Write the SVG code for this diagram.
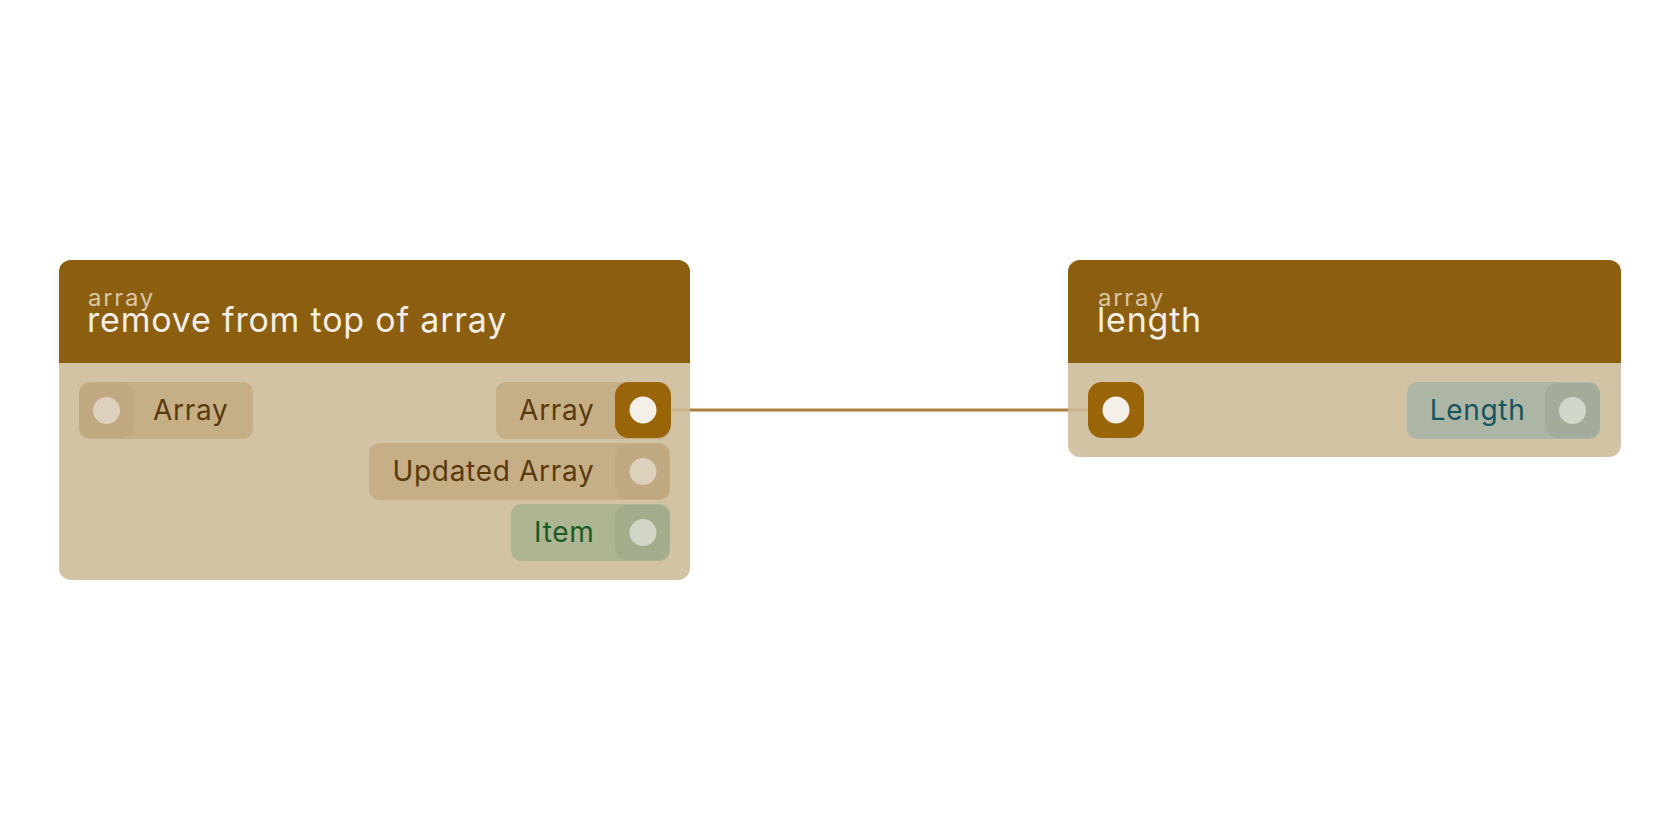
<svg xmlns="http://www.w3.org/2000/svg" width="1680" height="840" viewBox="0 0 1680 840">
<defs>
<style>
.body{fill:#CDBB99;fill-opacity:0.88}
.head{fill:#8C5E10}
.cat{font-family:Inter,"Noto Sans",sans-serif;font-size:24px;letter-spacing:1.7px;fill:#D8C6A6}
.title{font-family:Inter,"Noto Sans",sans-serif;font-size:34px;letter-spacing:0.8px;fill:#F3EEE6}
.lbl{font-family:Inter,"Noto Sans",sans-serif;font-size:28px;letter-spacing:0.7px}
.pb{fill:#C6AF86}
.hb{fill:#C0A882}
.db{fill:#DDD1BD}
.tb{fill:#5A3A0C}
.pg{fill:#ADB593}
.hg{fill:#A3AC8B}
.dg{fill:#D1D6C7}
.tg{fill:#1A5A26}
.pt{fill:#ADB6A4}
.ht{fill:#A3AB9B}
.dt{fill:#D2D7CC}
.tt{fill:#165560}
.hc{fill:#9A6409}
.dc{fill:#F4F0E9}
.wire{fill:none;stroke:#A8803E;stroke-width:3}
</style>
</defs>
<rect width="1680" height="840" fill="#FFFFFF"/>
<g id="connectors">
<path class="wire" d="M643,410 H1116"/>
</g>
<g id="node-remove-from-top">
<rect class="body" x="59" y="260" width="631" height="320" rx="12"/>
<path class="head" d="M71,260 H678 A12,12 0 0 1 690,272 V363 H59 V272 A12,12 0 0 1 71,260 Z"/>
<text class="cat" x="88" y="306">array</text>
<text class="title" x="87" y="332">remove from top of array</text>
<rect class="pb" x="79" y="382" width="174" height="57" rx="10"/>
<rect class="hb" x="79" y="383" width="55" height="55" rx="13"/>
<circle class="db" cx="106.5" cy="410.5" r="13.5"/>
<text class="lbl tb" x="153" y="420">Array</text>
<rect class="pb" x="496" y="382" width="174" height="57" rx="10"/>
<rect class="hc" x="615" y="382" width="56" height="56" rx="14"/>
<circle class="dc" cx="643" cy="410" r="13.5"/>
<text class="lbl tb" x="594.5" y="420" text-anchor="end">Array</text>
<rect class="pb" x="369" y="443" width="301" height="57" rx="10"/>
<rect class="hb" x="615" y="444" width="55" height="55" rx="13"/>
<circle class="db" cx="643" cy="471.5" r="13.5"/>
<text class="lbl tb" x="594.5" y="481" text-anchor="end">Updated Array</text>
<rect class="pg" x="511" y="504" width="159" height="57" rx="10"/>
<rect class="hg" x="615" y="505" width="55" height="55" rx="13"/>
<circle class="dg" cx="643" cy="532.5" r="13.5"/>
<text class="lbl tg" x="594.5" y="542" text-anchor="end">Item</text>
</g>
<g id="node-length">
<rect class="body" x="1068" y="260" width="553" height="197" rx="12"/>
<path class="head" d="M1080,260 H1609 A12,12 0 0 1 1621,272 V363 H1068 V272 A12,12 0 0 1 1080,260 Z"/>
<text class="cat" x="1098" y="306">array</text>
<text class="title" x="1097" y="332">length</text>
<rect class="hc" x="1088" y="382" width="56" height="56" rx="14"/>
<circle class="dc" cx="1116" cy="410" r="13.5"/>
<rect class="pt" x="1407" y="382" width="193" height="57" rx="10"/>
<rect class="ht" x="1545" y="383" width="55" height="55" rx="13"/>
<circle class="dt" cx="1572.5" cy="410.5" r="13.5"/>
<text class="lbl tt" x="1525.5" y="420" text-anchor="end">Length</text>
</g>
</svg>
